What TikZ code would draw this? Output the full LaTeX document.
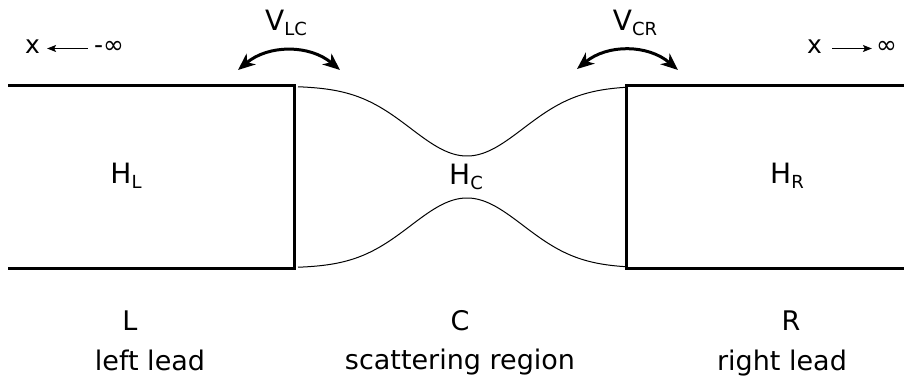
\documentclass[tikz,border=0pt]{standalone}
\usepackage{fontspec}
\setmainfont{DejaVu Sans}
\usetikzlibrary{arrows.meta}
\newcommand\lowsub[1]{\raisebox{-5pt}{\fontsize{18}{18}\selectfont #1}}
\begin{document}
\begin{tikzpicture}[x=1pt,y=-1pt,
  lab/.style={inner sep=0pt, anchor=base, font=\fontsize{27}{30}\selectfont},
  ham/.style={inner sep=0pt, anchor=base, font=\fontsize{28}{30}\selectfont},
  inf/.style={inner sep=0pt, anchor=base, text height=11pt, text depth=0pt, font=\fontsize{25}{27}\selectfont},
  lead/.style={line width=3pt, line join=miter},
  wall/.style={line width=1pt},
  coupling/.style={line width=3pt, {Stealth[length=17pt,width=14pt,inset=5pt]}-{Stealth[length=17pt,width=14pt,inset=5pt]}},
  limarrow/.style={line width=1pt, -{Stealth[length=9pt,width=7pt,inset=2pt]}}
]
\useasboundingbox (0,0) rectangle (904,382);
% leads
\draw[lead] (8,86) -- (294,86) -- (294,268) -- (8,268);
\draw[lead] (904,86) -- (626,86) -- (626,268) -- (904,268);
% scattering region boundaries
\draw[wall] plot[domain=298:625, samples=140] (\x, {86+70*exp(-((\x-467)/100)^2/0.632)});
\draw[wall] plot[domain=298:625, samples=140] (\x, {268-70*exp(-((\x-467)/100)^2/0.632)});
% Hamiltonians
\node[ham] (hl) at (126,184) {H\lowsub{L}};
\node[ham] (hc) at (466,185) {H\lowsub{C}};
\node[ham] (hr) at (787,184) {H\lowsub{R}};
% couplings
\node[ham] (vlc) at (286,31) {V\lowsub{LC}};
\node[ham] (vcr) at (635,31) {V\lowsub{CR}};
\coordinate (lca) at (238,70);
\coordinate (lcb) at (340,70);
\coordinate (cra) at (577,69);
\coordinate (crb) at (678,70);
\draw[coupling] (lca) to[bend left=40] (lcb);
\draw[coupling] (cra) to[bend left=40] (crb);
% limits
\node[inf] (xl) at (32.5,54) {x};
\node[inf] (ml) at (109,54) {-∞};
\draw[limarrow, shorten >=7pt, shorten <=6pt] (ml.west) -- (xl.east);
\node[inf] (xr) at (814.5,54) {x};
\node[inf] (mr) at (886.5,54) {∞};
\draw[limarrow, shorten <=10pt, shorten >=4pt] (xr.east) -- (mr.west);
% region labels
\node[lab] (l1) at (130,330) {L};
\node[lab] (l2) at (150,370) {left lead};
\node[lab] (c1) at (460,330) {C};
\node[lab] (c2) at (460,369) {scattering region};
\node[lab] (r1) at (791,330) {R};
\node[lab] (r2) at (782,370) {right lead};
\end{tikzpicture}
\end{document}
